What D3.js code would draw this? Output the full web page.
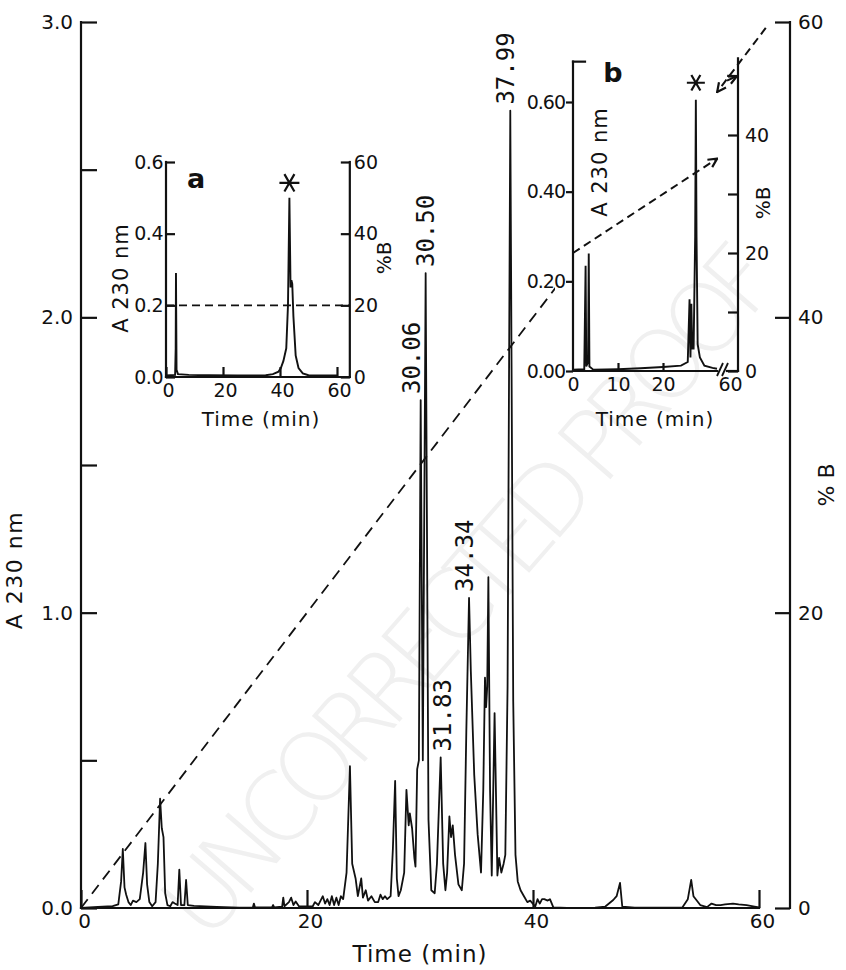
<!DOCTYPE html>
<html>
<head>
<meta charset="utf-8">
<script src="https://cdn.jsdelivr.net/npm/d3@7"></script>
<style>
  body { margin: 0; background: #fff; }
  svg { display: block; }
  text { font-family: "DejaVu Sans", sans-serif; fill: #111; }
  .peak { font-family: "DejaVu Sans Mono", monospace; }
</style>
</head>
<body>
<div id="chart"></div>
<script>
// ---- main chromatogram: A230 nm vs time (min)
const mainTime = [0, 1.5, 2.8, 3.3, 3.55, 3.7, 3.85, 4.0, 4.2, 4.4, 4.6, 4.9, 5.2, 5.5, 5.7, 5.85, 6.05, 6.3, 6.6, 6.8,
  7.0, 7.15, 7.3, 7.45, 7.65, 7.9, 8.1, 8.3, 8.55, 8.7, 8.85, 9.15, 9.3, 9.45, 10, 12, 14, 15.2, 15.3, 15.4,
  16.9, 17.0, 17.1, 17.8, 17.9, 18.0, 18.4, 18.6, 18.8, 19.0, 19.3, 20.5, 20.7, 21.0, 21.4, 21.6, 21.8, 22.0, 22.2, 22.4,
  22.6, 22.8, 23.0, 23.2, 23.5, 23.8, 24.0, 24.3, 24.5, 24.8, 24.95, 25.2, 25.4, 25.7, 26.0, 26.3, 26.5, 26.7, 26.9, 27.1,
  27.4, 27.6, 27.8, 27.95, 28.1, 28.3, 28.6, 28.8, 29.0, 29.1, 29.3, 29.5, 29.6, 29.75, 29.9, 30.06, 30.25, 30.5, 30.75, 31.0,
  31.3, 31.5, 31.83, 32.05, 32.25, 32.4, 32.6, 32.75, 32.9, 33.1, 33.4, 33.7, 33.9, 34.1, 34.34, 34.5, 34.8, 35.1, 35.4, 35.6,
  35.75, 35.85, 35.95, 36.05, 36.2, 36.35, 36.6, 36.85, 37.0, 37.2, 37.4, 37.55, 37.75, 37.99, 38.25, 38.45, 38.65, 38.9, 39.2, 39.5,
  39.75, 40.2, 40.4, 40.6, 40.8, 41.0, 41.3, 41.5, 41.8, 43.0, 45.5, 46.4, 47.1, 47.4, 47.7, 47.9, 49.0, 53.2, 53.7, 54.0,
  54.2, 54.8, 55.4, 55.8, 56.2, 56.6, 57.0, 57.7, 58.2, 58.9, 59.6, 60];
const mainAbs = [0, 0.004, 0.006, 0.012, 0.09, 0.2, 0.07, 0.045, 0.02, 0.01, 0.025, 0.02, 0.03, 0.12, 0.22, 0.08, 0.02, 0.006, 0.02, 0.15,
  0.37, 0.27, 0.24, 0.05, 0.01, 0.006, 0.02, 0.015, 0.01, 0.13, 0.01, 0.01, 0.095, 0.01, 0.007, 0.004, 0.001, 0.001, 0.015, 0.002,
  0.002, 0.01, 0.002, 0.005, 0.035, 0.006, 0.02, 0.035, 0.01, 0.022, 0.005, 0.005, 0.02, 0.01, 0.04, 0.015, 0.03, 0.01, 0.04, 0.01,
  0.035, 0.01, 0.04, 0.03, 0.12, 0.48, 0.15, 0.1, 0.04, 0.1, 0.035, 0.06, 0.025, 0.04, 0.02, 0.02, 0.045, 0.03, 0.04, 0.03,
  0.04, 0.2, 0.43, 0.1, 0.04, 0.06, 0.12, 0.4, 0.28, 0.32, 0.27, 0.17, 0.14, 0.47, 0.5, 1.72, 0.5, 2.15, 0.3, 0.06,
  0.05, 0.15, 0.51, 0.15, 0.06, 0.12, 0.31, 0.24, 0.28, 0.18, 0.08, 0.06, 0.15, 0.6, 1.05, 0.8, 0.45, 0.25, 0.12, 0.4,
  0.78, 0.68, 0.75, 1.12, 0.4, 0.11, 0.66, 0.11, 0.17, 0.12, 0.15, 0.18, 0.75, 2.7, 0.7, 0.18, 0.09, 0.06, 0.04, 0.02,
  0.025, 0.005, 0.03, 0.015, 0.03, 0.03, 0.025, 0.03, 0.002, 0, 0.001, 0.005, 0.027, 0.04, 0.085, 0.005, 0.001, 0.001, 0.03, 0.095,
  0.04, 0.01, 0.003, 0.015, 0.01, 0.01, 0.012, 0.015, 0.012, 0.01, 0.005, 0.002];

const peakTimes = [30.06, 30.50, 31.83, 34.34, 37.99];
const peakLabels = ["30.06", "30.50", "31.83", "34.34", "37.99"];
const peakNudge = [-9, 0, 2, -4, -5];

const gradTime = [0, 60];
const gradB = [0, 60];

const mainYTicks = [0, 0.5, 1, 1.5, 2, 2.5, 3];
const mainXTicks = [0, 20, 40, 60];
const mainBTicks = [0, 20, 40, 60];

// ---- inset a
const aTime = [0, 3.2, 3.4, 3.5, 3.7, 4.2, 8, 15, 25, 35, 37.5, 39.5, 40.3, 41.2, 42.2, 42.8, 43.3, 43.7, 44.0, 44.3,
  44.7, 45.5, 46.5, 48, 50, 59, 60];
const aAbs = [0.004, 0.006, 0.08, 0.29, 0.02, 0.008, 0.006, 0.005, 0.004, 0.005, 0.008, 0.015, 0.025, 0.045, 0.08, 0.2, 0.5, 0.25, 0.27, 0.26,
  0.17, 0.06, 0.025, 0.01, 0.005, 0.004, 0.004];
const aGradTime = [0, 64.5];
const aGradB = [20, 20];
const aYTicks = [0, 0.2, 0.4, 0.6];
const aXTicks = [0, 20, 40, 60];
const aBTicks = [0, 20, 40, 60];

// ---- inset b
const bTime = [0, 2.5, 2.8, 2.95, 3.35, 3.5, 3.65, 4.5, 10, 15, 20, 24, 25.5, 25.9, 26.1, 26.3, 26.5, 26.8, 27.15, 27.3,
  27.45, 27.7, 28.2, 29.2, 31, 32];
const bAbs = [0.003, 0.004, 0.235, 0.01, 0.02, 0.262, 0.01, 0.003, 0.004, 0.006, 0.009, 0.012, 0.02, 0.16, 0.03, 0.15, 0.05, 0.05, 0.3, 0.605,
  0.3, 0.06, 0.03, 0.012, 0.007, 0.005];
const bGradTime = [0, 32.3];
const bGradB = [20, 36];
const bYTicks = [0, 0.2, 0.4, 0.6];
const bXTicks = [0, 10, 20, 60];
const bBTicks = [0, 10, 20, 30, 40, 50];

const W = 846, H = 970;
const ink = "#111";

const svg = d3.select("#chart").append("svg")
  .attr("width", W)
  .attr("height", H)
  .style("background", "#fff");

const defs = svg.append("defs");
defs.append("marker")
  .attr("id", "arrow")
  .attr("viewBox", "0 0 10 10")
  .attr("refX", 9)
  .attr("refY", 5)
  .attr("markerUnits", "userSpaceOnUse")
  .attr("markerWidth", 11)
  .attr("markerHeight", 11)
  .attr("orient", "auto")
  .append("path")
  .attr("d", "M1,1 L9,5 L1,9")
  .attr("fill", "none")
  .attr("stroke", ink)
  .attr("stroke-width", 2);

// faint watermark
svg.append("text")
  .attr("transform", "translate(495,612) rotate(-49)")
  .attr("text-anchor", "middle")
  .attr("font-size", 96)
  .attr("font-weight", 200)
  .attr("textLength", 880)
  .attr("lengthAdjust", "spacing")
  .style("fill", "#f0f0f0")
  .text("UNCORRECTED PROOF");

function styleAxis(g, size) {
  g.attr("font-family", null).attr("font-size", null);
  g.selectAll("path.domain").remove();
  g.selectAll(".tick line").attr("stroke", ink).attr("stroke-width", 2.2);
  g.selectAll(".tick text").attr("font-size", size).style("fill", ink);
}

function vline(x, y1, y2) {
  svg.append("line").attr("x1", x).attr("x2", x).attr("y1", y1).attr("y2", y2)
    .attr("stroke", ink).attr("stroke-width", 2.2).attr("stroke-linecap", "square");
}
function hline(y, x1, x2) {
  svg.append("line").attr("x1", x1).attr("x2", x2).attr("y1", y).attr("y2", y)
    .attr("stroke", ink).attr("stroke-width", 2.2).attr("stroke-linecap", "square");
}
function label(txt, x, y, size, rot, extra) {
  const t = svg.append("text")
    .attr("transform", `translate(${x},${y}) rotate(${rot || 0})`)
    .attr("text-anchor", "middle")
    .attr("font-size", size)
    .text(txt);
  if (extra) extra(t);
  return t;
}

// ================= main chart
const x = d3.scaleLinear().domain([0, 60]).range([81, 759]);
const y = d3.scaleLinear().domain([0, 3]).range([908, 22]);
const yB = d3.scaleLinear().domain([0, 60]).range([908, 22]);
const rightX = 790;

const gl = svg.append("g").attr("transform", `translate(${x(0)},0)`)
  .call(d3.axisLeft(y).tickValues(mainYTicks).tickSizeInner(-16).tickSizeOuter(0).tickPadding(8)
    .tickFormat(d => (d % 1 === 0 ? d.toFixed(1) : "")));
styleAxis(gl, 20);
vline(x(0), y(3), y(0));

const gx = svg.append("g").attr("transform", `translate(0,${y(0)})`)
  .call(d3.axisBottom(x).tickValues(mainXTicks).tickSizeInner(-18).tickSizeOuter(0).tickPadding(6)
    .tickFormat(d3.format("d")));
styleAxis(gx, 20);
gx.selectAll(".tick text").attr("dx", 3);
hline(y(0), x(0), x(60));

const gr = svg.append("g").attr("transform", `translate(${rightX},0)`)
  .call(d3.axisRight(yB).tickValues(mainBTicks).tickSizeInner(-15).tickSizeOuter(0).tickPadding(8)
    .tickFormat(d3.format("d")));
styleAxis(gr, 20);
vline(rightX, yB(60), yB(0));

label("A 230 nm", 22, 570, 22, -90, t => t.attr("letter-spacing", 1.5));
label("% B", 834, 485, 22, -90);
label("Time (min)", 420, 962, 23, 0, t => t.attr("letter-spacing", 1));

// gradient (dashed), hidden where inset b sits
defs.append("clipPath").attr("id", "gradClip")
  .append("rect").attr("x", 0).attr("y", 0).attr("width", 555).attr("height", H);
svg.append("path")
  .datum(gradTime.map((t, i) => [t, gradB[i]]))
  .attr("clip-path", "url(#gradClip)")
  .attr("fill", "none")
  .attr("stroke", ink)
  .attr("stroke-width", 1.8)
  .attr("stroke-dasharray", "11,7")
  .attr("d", d3.line().x(d => x(d[0])).y(d => yB(d[1])));

// trace
svg.append("path")
  .datum(mainTime.map((t, i) => [t, mainAbs[i]]))
  .attr("fill", "none")
  .attr("stroke", ink)
  .attr("stroke-width", 1.8)
  .attr("stroke-linejoin", "round")
  .attr("d", d3.line().x(d => x(d[0])).y(d => y(d[1])));

// peak labels
peakTimes.forEach((pt, i) => {
  let top = 0;
  mainTime.forEach((t, j) => { if (Math.abs(t - pt) < 0.1) top = Math.max(top, mainAbs[j]); });
  svg.append("text")
    .attr("class", "peak")
    .attr("transform", `translate(${x(pt) + peakNudge[i]},${y(top) - 6}) rotate(-90)`)
    .attr("dy", "0.35em")
    .attr("font-size", 24)
    .text(peakLabels[i]);
});

// ================= inset a
const xa = d3.scaleLinear().domain([0, 60]).range([166, 337]);
const ya = d3.scaleLinear().domain([0, 0.6]).range([377, 162]);
const yaB = d3.scaleLinear().domain([0, 60]).range([377, 162]);
const aRight = xa(64.5);

const gal = svg.append("g").attr("transform", `translate(${xa(0)},0)`)
  .call(d3.axisLeft(ya).tickValues(aYTicks).tickSizeInner(-9).tickSizeOuter(0).tickPadding(3)
    .tickFormat(d3.format(".1f")));
styleAxis(gal, 19);
gal.selectAll(".tick text").attr("letter-spacing", -0.5);
vline(xa(0), ya(0.6), ya(0));

const gar = svg.append("g").attr("transform", `translate(${aRight},0)`)
  .call(d3.axisRight(yaB).tickValues(aBTicks).tickSizeInner(-9).tickSizeOuter(0).tickPadding(4)
    .tickFormat(d3.format("d")));
styleAxis(gar, 19);
vline(aRight, yaB(60), yaB(0));

const gab = svg.append("g").attr("transform", `translate(0,${ya(0)})`)
  .call(d3.axisBottom(xa).tickValues(aXTicks).tickSizeInner(-10).tickSizeOuter(0).tickPadding(7)
    .tickFormat(d3.format("d")));
styleAxis(gab, 19);
gab.selectAll(".tick text").attr("dx", 2);
hline(ya(0), xa(0), aRight);

svg.append("path")
  .datum(aGradTime.map((t, i) => [t, aGradB[i]]))
  .attr("fill", "none")
  .attr("stroke", ink)
  .attr("stroke-width", 1.6)
  .attr("stroke-dasharray", "8,5")
  .attr("d", d3.line().x(d => xa(d[0])).y(d => yaB(d[1])));

svg.append("path")
  .datum(aTime.map((t, i) => [t, aAbs[i]]))
  .attr("fill", "none")
  .attr("stroke", ink)
  .attr("stroke-width", 1.9)
  .attr("d", d3.line().x(d => xa(d[0])).y(d => ya(d[1])));

label("a", 196, 188, 27, 0, t => t.attr("font-weight", "bold"));
label("A 230 nm", 128, 278, 21, -90, t => t.attr("letter-spacing", 1));
label("%B", 391, 258, 20, -90);
label("Time (min)", 261, 426, 20, 0, t => t.attr("letter-spacing", 1));

function asterisk(cx, cy, r) {
  const p = d3.path();
  for (let k = 0; k < 3; k++) {
    const a = (k * Math.PI) / 3;
    p.moveTo(cx - r * Math.cos(a), cy - r * Math.sin(a));
    p.lineTo(cx + r * Math.cos(a), cy + r * Math.sin(a));
  }
  svg.append("path").attr("d", p.toString()).attr("stroke", ink).attr("stroke-width", 2.2);
}
asterisk(xa(43.3), ya(d3.max(aAbs)) - 15, 10);

// ================= inset b
const xb = d3.scaleLinear().domain([0, 32, 60]).range([573, 717, 733]);
const yb = d3.scaleLinear().domain([0, 0.6]).range([371, 102]);
const ybB = d3.scaleLinear().domain([0, 40]).range([371, 135]);
const bRight = 738;

const gbl = svg.append("g").attr("transform", `translate(${xb(0)},0)`)
  .call(d3.axisLeft(yb).tickValues(bYTicks).tickSizeInner(7).tickSizeOuter(0).tickPadding(1)
    .tickFormat(d3.format(".2f")));
styleAxis(gbl, 19);
gbl.selectAll(".tick text").attr("letter-spacing", -1);
vline(xb(0), yb(0.69), yb(0));
hline(yb(0.69), xb(0), xb(0) + 12);

const gbr = svg.append("g").attr("transform", `translate(${bRight},0)`)
  .call(d3.axisRight(ybB).tickValues(bBTicks).tickSizeInner(-10).tickSizeOuter(0).tickPadding(7)
    .tickFormat(d => (d % 20 === 0 ? d : "")));
styleAxis(gbr, 19);
vline(bRight, ybB(53), ybB(0));

const gbb = svg.append("g").attr("transform", `translate(0,${yb(0)})`)
  .call(d3.axisBottom(xb).tickValues(bXTicks).tickSizeInner(-8).tickSizeOuter(0).tickPadding(7)
    .tickFormat(d3.format("d")));
styleAxis(gbb, 19);
gbb.selectAll(".tick line").filter(d => d === 0 || d === 60).remove();
gbb.selectAll(".tick text").filter(d => d === 60).attr("dx", -3);
hline(yb(0), xb(0), xb(32));
hline(yb(0), xb(32) + 10, bRight);
// axis break marks
[0, 5].forEach(o => {
  svg.append("line")
    .attr("x1", xb(32) + o).attr("y1", yb(0) + 5)
    .attr("x2", xb(32) + o + 6).attr("y2", yb(0) - 8)
    .attr("stroke", ink).attr("stroke-width", 1.8);
});

svg.append("path")
  .datum(bGradTime.map((t, i) => [t, bGradB[i]]))
  .attr("fill", "none")
  .attr("stroke", ink)
  .attr("stroke-width", 2)
  .attr("stroke-dasharray", "8,5")
  .attr("marker-end", "url(#arrow)")
  .attr("d", d3.line().x(d => xb(d[0])).y(d => ybB(d[1])));

// upper dashed arrow coming down from the main gradient end
svg.append("path")
  .attr("fill", "none")
  .attr("stroke", ink)
  .attr("stroke-width", 2)
  .attr("stroke-dasharray", "8,5")
  .attr("marker-end", "url(#arrow)")
  .attr("d", d3.line()([[x(60.6), yB(59.6)], [xb(32.3), ybB(47.3)]]));
svg.append("path")
  .attr("fill", "none")
  .attr("stroke", ink)
  .attr("stroke-width", 2)
  .attr("marker-end", "url(#arrow)")
  .attr("d", d3.line()([[bRight - 11, ybB(49.2)], [bRight - 1, ybB(50)]]));

svg.append("path")
  .datum(bTime.map((t, i) => [t, bAbs[i]]))
  .attr("fill", "none")
  .attr("stroke", ink)
  .attr("stroke-width", 1.9)
  .attr("d", d3.line().x(d => xb(d[0])).y(d => yb(d[1])));

label("b", 613, 82, 27, 0, t => t.attr("font-weight", "bold"));
label("A 230 nm", 607, 162, 21, -90, t => t.attr("letter-spacing", 1));
label("%B", 770, 203, 20, -90);
label("Time (min)", 655, 426, 20, 0, t => t.attr("letter-spacing", 1));
asterisk(xb(27.3), yb(d3.max(bAbs)) - 17, 9);
</script>
</body>
</html>
